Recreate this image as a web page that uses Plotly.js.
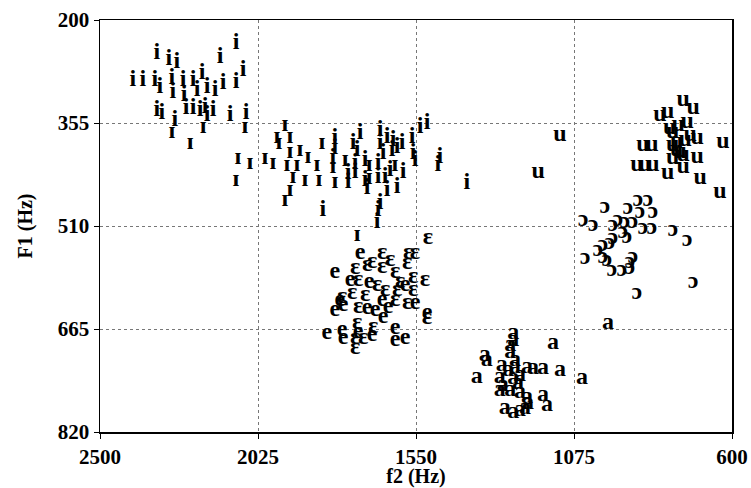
<!DOCTYPE html>
<html><head><meta charset="utf-8">
<script src="https://cdn.plot.ly/plotly-3.0.1.min.js"></script>
<style>html,body{margin:0;padding:0;background:#fff}</style>
</head><body>
<div id="chart" style="width:751px;height:488px"></div>
<script>
// Vowel symbols
const symbols = ["i", "ɪ", "ɛ", "e", "a", "ɔ", "u"];
// f2 (Hz) and F1 (Hz) per vowel
const i_f2 = [2329,2293,2269,2139,2091,2070,2401,2371,2335,2320,2284,2281,2250,2247,2220,2208,2193,2178,2154,2130,2091,2329,2314,2275,2241,2220,2199,2184,2178,2160,2109,2061,
  1794,1794,1800,1830,1718,1739,1727,1733,1733,1754,1754,1703,1703,1697,1658,1658,1649,1664,1664,1637,1619,1607,1592,1622,1643,1628,1637,1607,1589,1658,1664,1667,1562,1559,1553,1538,1517,1478,1484,1397];
const i_f1 = [250,259,263,256,235,275,290,290,290,301,287,308,290,313,290,305,280,301,305,295,293,335,340,350,332,332,335,331,343,335,343,340,
  378,393,408,486,370,385,396,415,429,430,444,411,441,453,366,385,400,415,436,376,381,391,385,396,436,426,456,451,429,475,486,504,376,400,411,361,355,406,418,445];
const ih_f2 = [2284,2190,2064,2229,2085,2049,2091,2004,1980,1944,1968,1962,1929,1929,1938,1908,1899,1875,1848,1833,1884,1920,1929,1944,1842,1763,1800,1794,1727,1691,1613,1691];
const ih_f1 = [369,361,361,385,408,415,441,408,415,358,376,385,376,399,418,418,396,406,418,385,441,436,456,471,441,411,421,444,524,418,418,438];
const eh_f2 = [1514,1652,1574,1553,1733,1697,1652,1613,1577,1559,1523,1724,1667,1598,1607,1559,1742,1724,1613,1577,1517,1727,1679,1733,1709,1733,1682,1628,1643,1703,1772];
const eh_f1 = [528,551,551,551,573,569,572,579,566,587,591,591,599,594,606,606,611,632,621,626,648,656,662,679,679,694,564,561,606,614,617];
const e_f2 = [1718,1794,1779,1794,1769,1697,1673,1652,1634,1553,1517,1818,1772,1724,1769,1682,1613,1613,1583,1649,1748,1691,1583];
const e_f1 = [551,579,621,636,629,633,636,621,632,626,641,671,666,670,679,674,664,682,679,647,591,594,599];
const a_f2 = [1258,1258,1267,1267,1138,1343,1337,1292,1252,1216,1198,1168,1117,1051,1367,1298,1258,1289,1243,1298,1267,1237,1216,1168,1213,1156,1283,1258,1237,1222,973,1252,1273,1237];
const a_f1 = [671,682,689,700,686,704,712,719,722,722,724,724,727,739,737,737,739,749,746,757,757,760,767,764,776,779,784,790,787,784,656,712,727,734];
const oh_f2 = [1048,1018,982,958,913,883,853,877,838,922,898,868,841,928,916,778,735,988,1003,967,958,988,1042,976,898,907,961,931,907,717,886,943];
const oh_f1 = [501,509,481,509,483,471,471,489,489,504,504,513,513,519,527,516,531,539,546,536,528,557,558,561,557,564,576,576,573,594,611,501];
const u_f2 = [1117,1183,817,793,747,717,627,868,841,886,862,838,793,747,705,696,636,778,766,756,726,705,778,747,762,735,787,766,741,778];
const u_f1 = [373,429,343,338,320,332,384,388,388,418,418,418,430,421,406,438,459,369,384,399,373,378,408,403,358,353,363,396,381,388];

const xTicks = [2500, 2025, 1550, 1075, 600];
const yTicks = [200, 355, 510, 665, 820];

const sets = [[i_f2,i_f1],[ih_f2,ih_f1],[eh_f2,eh_f1],[e_f2,e_f1],[a_f2,a_f1],[oh_f2,oh_f1],[u_f2,u_f1]];
const FONT = '"Liberation Serif","Times New Roman",Times,"DejaVu Serif",serif';
const traces = sets.map((s, k) => ({
  type: 'scatter', mode: 'text', x: s[0], y: s[1],
  text: s[0].map(() => symbols[k]),
  textposition: 'middle center',
  textfont: {family: FONT, size: 24, color: '#000', weight: 'bold'},
  hoverinfo: 'skip', showlegend: false, cliponaxis: false
}));

const axisCommon = {
  showline: true, linecolor: '#000', linewidth: 1.5, mirror: true,
  ticks: 'outside', ticklen: 5, tickcolor: '#000', tickwidth: 1,
  showgrid: true, gridcolor: '#777', griddash: 'dot', gridwidth: 1,
  zeroline: false,
  tickfont: {family: FONT, size: 21, color: '#000', weight: 'bold'}
};

const layout = {
  width: 751, height: 488,
  margin: {l: 100, r: 19, t: 20, b: 56},
  paper_bgcolor: '#fff', plot_bgcolor: '#fff',
  xaxis: Object.assign({}, axisCommon, {
    range: [2500, 600], tickvals: xTicks, ticktext: xTicks.map(String),
    title: {text: 'f2 (Hz)', font: {family: FONT, size: 20, color: '#000', weight: 'bold'}, standoff: 1}
  }),
  yaxis: Object.assign({}, axisCommon, {
    range: [820, 200], tickvals: yTicks, ticktext: yTicks.map(String),
    title: {text: 'F1 (Hz)', font: {family: FONT, size: 20, color: '#000', weight: 'bold'}, standoff: 20}
  }),
  hovermode: false
};

Plotly.newPlot('chart', traces, layout, {displayModeBar: false, staticPlot: true});
</script>
</body></html>
